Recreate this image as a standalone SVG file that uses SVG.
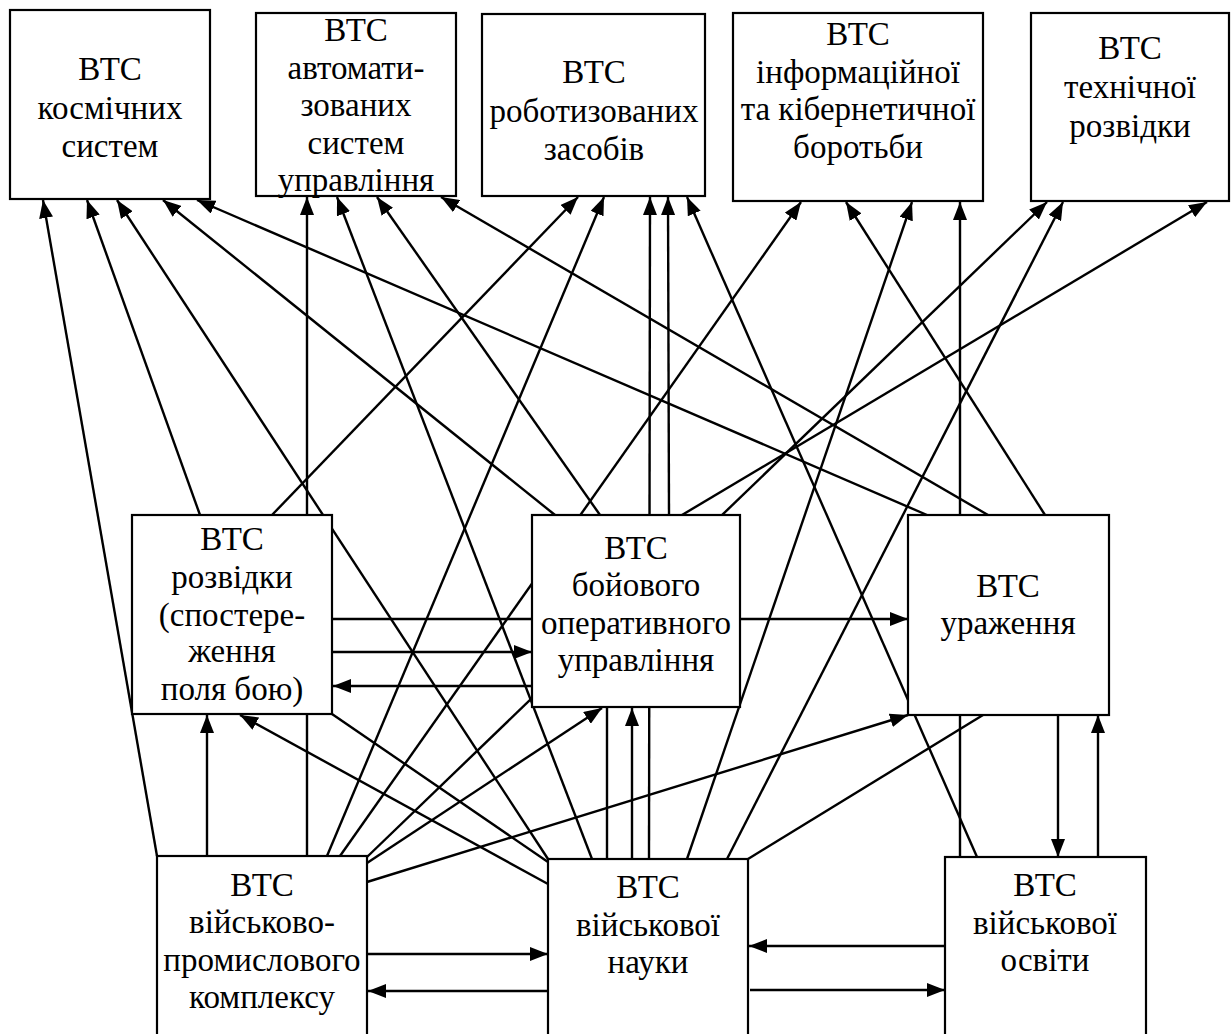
<svg xmlns="http://www.w3.org/2000/svg" width="1231" height="1034" viewBox="0 0 1231 1034">
<defs>
<marker id="ah" markerUnits="userSpaceOnUse" markerWidth="18" markerHeight="14" refX="18" refY="7" orient="auto">
<path d="M0,0 L18,7 L0,14 z" fill="#000"/>
</marker>
<style>
.c{fill:none;stroke:#000;stroke-width:2.4}
.a{marker-end:url(#ah)}
.n rect{fill:#fff;stroke:#000;stroke-width:2.2}
.n text{font-size:33px;text-anchor:middle;fill:#000}
</style>
</defs>
<rect width="1231" height="1034" fill="#fff"/>
<g id="connectors">
<path class="c a" d="M157,856 L43,200"/>
<path class="c a" d="M200,515 L87,200"/>
<path class="c a" d="M548,859 L117,200"/>
<path class="c a" d="M555,515 L163,200"/>
<path class="c a" d="M927,515 L197,200"/>
<path class="c a" d="M307,856 L307,197"/>
<path class="c a" d="M592,859 L337,197"/>
<path class="c a" d="M600,515 L377,197"/>
<path class="c a" d="M988,515 L441,197"/>
<path class="c a" d="M272,515 L578,197"/>
<path class="c a" d="M327,856 L604,197"/>
<path class="c a" d="M649,859 L650,197"/>
<path class="c a" d="M669,515 L668,197"/>
<path class="c a" d="M977,857 L687,197"/>
<path class="c a" d="M340,856 L801,202"/>
<path class="c a" d="M1045,515 L846,202"/>
<path class="c a" d="M687,859 L912,202"/>
<path class="c a" d="M960,857 L960,202"/>
<path class="c a" d="M367,857 L1047,202"/>
<path class="c a" d="M727,859 L1063,202"/>
<path class="c a" d="M682,515 L1207,202"/>
<path class="c a" d="M332,619 L908,619"/>
<path class="c a" d="M332,652 L532,652"/>
<path class="c a" d="M532,686 L333,686"/>
<path class="c a" d="M207,856 L207,715"/>
<path class="c a" d="M548,884 L240,715"/>
<path class="c" d="M332,714 L548,862"/>
<path class="c a" d="M367,863 L602,708"/>
<path class="c a" d="M367,882 L908,715"/>
<path class="c" d="M607,859 L607,707"/>
<path class="c a" d="M632,859 L632,708"/>
<path class="c" d="M748,859 L983,715"/>
<path class="c a" d="M367,954 L548,954"/>
<path class="c a" d="M548,991 L368,991"/>
<path class="c a" d="M945,946 L749,946"/>
<path class="c a" d="M750,990 L945,990"/>
<path class="c a" d="M1058,715 L1058,857"/>
<path class="c a" d="M1098,857 L1098,715"/>
</g>
<g font-family="Liberation Serif, Tinos, DejaVu Serif, serif">
<g id="n-kosm" class="n"><rect x="10" y="10" width="200" height="189"/><text x="110" y="80">ВТС</text><text x="110" y="118.5">космічних</text><text x="110" y="157">систем</text></g>
<g id="n-asu" class="n"><rect x="256" y="13" width="200" height="183"/><text x="356" y="41">ВТС</text><text x="356" y="78.5">автомати-</text><text x="356" y="116">зованих</text><text x="356" y="153.5">систем</text><text x="356" y="191">управління</text></g>
<g id="n-robot" class="n"><rect x="482" y="14" width="223" height="182"/><text x="594" y="83">ВТС</text><text x="594" y="121.5">роботизованих</text><text x="594" y="160">засобів</text></g>
<g id="n-info" class="n"><rect x="733" y="13" width="250" height="188"/><text x="858" y="45">ВТС</text><text x="858" y="82.5">інформаційної</text><text x="858" y="120">та кібернетичної</text><text x="858" y="157.5">боротьби</text></g>
<g id="n-tech" class="n"><rect x="1031" y="13" width="198" height="188"/><text x="1130" y="59">ВТС</text><text x="1130" y="98">технічної</text><text x="1130" y="137">розвідки</text></g>
<g id="n-rozv" class="n"><rect x="132" y="515" width="200" height="199"/><text x="232" y="550">ВТС</text><text x="232" y="588">розвідки</text><text x="232" y="626">(спостере-</text><text x="232" y="662">ження</text><text x="232" y="700">поля бою)</text></g>
<g id="n-boy" class="n"><rect x="532" y="515" width="208" height="192"/><text x="636" y="559">ВТС</text><text x="636" y="596">бойового</text><text x="636" y="634">оперативного</text><text x="636" y="671">управління</text></g>
<g id="n-urazh" class="n"><rect x="908" y="515" width="201" height="200"/><text x="1008" y="597">ВТС</text><text x="1008" y="634">ураження</text></g>
<g id="n-vpk" class="n"><rect x="157" y="856" width="210" height="190"/><text x="262" y="896">ВТС</text><text x="262" y="933">військово-</text><text x="262" y="971">промислового</text><text x="262" y="1008">комплексу</text></g>
<g id="n-nauka" class="n"><rect x="548" y="859" width="200" height="190"/><text x="648" y="898">ВТС</text><text x="648" y="935.5">військової</text><text x="648" y="973">науки</text></g>
<g id="n-osvita" class="n"><rect x="945" y="857" width="201" height="190"/><text x="1045" y="896">ВТС</text><text x="1045" y="934">військової</text><text x="1045" y="971">освіти</text></g>
</g>
</svg>
